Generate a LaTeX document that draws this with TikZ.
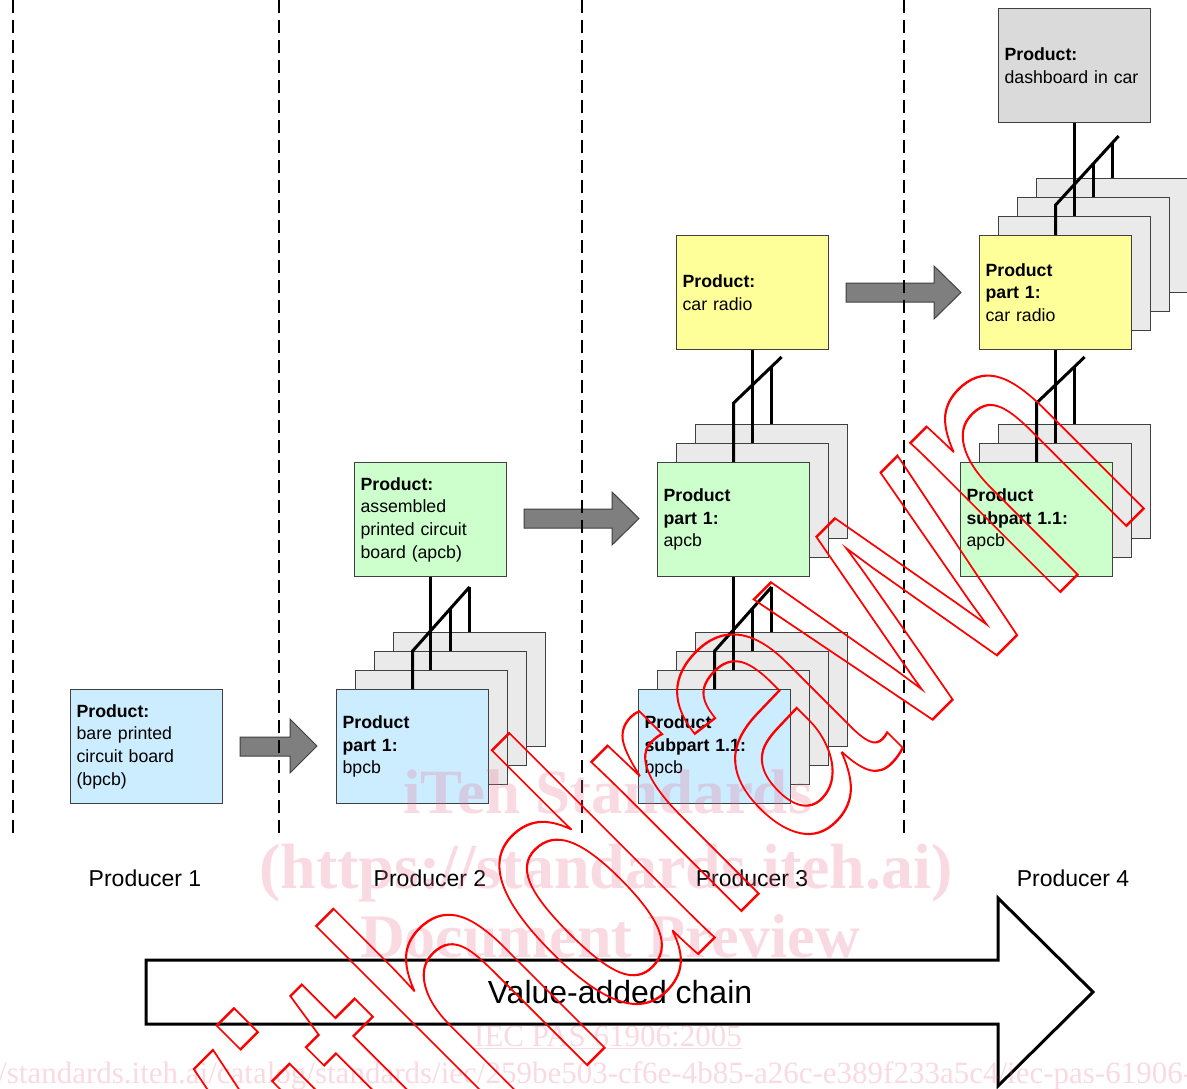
\documentclass[tikz,border=0pt]{standalone}
\usepackage{fontspec}
\setmainfont{Liberation Sans}
\newfontfamily\wmserif{Liberation Serif}
\definecolor{cbpcb}{HTML}{CCECFF}
\definecolor{capcb}{HTML}{CCFFCC}
\definecolor{cradio}{HTML}{FFFF99}
\definecolor{cdashb}{HTML}{DADADA}
\definecolor{cgray}{HTML}{EAEAEA}
\definecolor{carrow}{HTML}{7F7F7F}
\definecolor{cedge}{HTML}{404040}
\definecolor{cwm}{RGB}{235,110,145}
\newcommand\bxfont{\fontsize{17.7}{22.6}\selectfont}
\begin{document}
\begin{tikzpicture}[x=1pt,y=-1pt,
  pbox/.style={draw=cedge, line width=1.2pt, minimum width=152pt, minimum height=114pt,
    text width=140pt, inner xsep=6pt, inner ysep=0pt, align=left, anchor=north west, font=\bxfont},
  gbox/.style={pbox, fill=cgray},
  conn/.style={draw=black, line width=3pt},
  blockarrow/.style={fill=carrow, draw=cedge, line width=1pt},
  divider/.style={draw=black, line width=1.8pt, dash pattern=on 13pt off 7pt},
  prodlabel/.style={font=\fontsize{23}{23}\selectfont, inner sep=0pt},
  pinkwm/.style={text=cwm, text opacity=0.25, inner sep=0pt},
]
\fill[white] (0,0) rectangle (1187,1088);
\useasboundingbox (0,0) rectangle (1187,1088);

% ---------- Producer 1
\node[pbox, fill=cbpcb] (a1) at (70,689) {\textbf{Product:}\\bare printed\\circuit board\\(bpcb)};

% ---------- Producer 2
\node[gbox] (b4) at (393,632) {};
\node[gbox] (b3) at (374,651) {};
\node[gbox] (b2) at (355,670) {};
\node[pbox, fill=cbpcb] (b1) at (336,689) {\textbf{Product}\\\textbf{part 1:}\\bpcb};
\node[pbox, fill=capcb] (b0) at (354,462) {\textbf{Product:}\\assembled\\printed circuit\\board (apcb)};

\draw[conn] (b0.south) -- (b0.south |- b2.north);
\draw[conn] (b1.north) -- ++(0,-38) -- ([yshift=45pt]b4.north);
\draw[conn] (b3.north) -- ++(0,-43);
\draw[conn] (b4.north) -- ++(0,-45);

% ---------- Producer 3
\node[pbox, fill=cradio] (c0) at (676,235) {\textbf{Product:}\\car radio};
\node[gbox] (c3) at (695,424) {};
\node[gbox] (c2) at (676,443) {};
\node[pbox, fill=capcb] (c1) at (657,462) {\textbf{Product}\\\textbf{part 1:}\\apcb};
\node[gbox] (d4) at (695,632) {};
\node[gbox] (d3) at (676,651) {};
\node[gbox] (d2) at (657,670) {};
\node[pbox, fill=cbpcb] (d1) at (638,689) {\textbf{Product}\\\textbf{subpart 1.1:}\\bpcb};

\draw[conn] (c0.south) -- (c0.south |- c2.north);
\draw[conn] (c1.north) -- ++(0,-59) -- ([xshift=10pt,yshift=67pt]c3.north);
\draw[conn] (c3.north) -- ++(0,-57);
\draw[conn] (c1.south) -- (c1.south |- d2.north);
\draw[conn] (d1.north) -- ++(0,-38) -- ([yshift=45pt]d4.north);
\draw[conn] (d3.north) -- ++(0,-43);
\draw[conn] (d4.north) -- ++(0,-45);

% ---------- Producer 4
\node[pbox, fill=cdashb] (e0) at (998,8) {\textbf{Product:}\\dashboard in car};
\node[gbox] (f4) at (1036,178) {};
\node[gbox] (f3) at (1017,197) {};
\node[gbox] (f2) at (998,216) {};
\node[pbox, fill=cradio] (f1) at (979,235) {\textbf{Product}\\\textbf{part 1:}\\car radio};
\node[gbox] (g3) at (998,424) {};
\node[gbox] (g2) at (979,443) {};
\node[pbox, fill=capcb] (g1) at (960,462) {\textbf{Product}\\\textbf{subpart 1.1:}\\apcb};

\draw[conn] (e0.south) -- (e0.south |- f2.north);
\draw[conn] (f1.north) -- ++(0,-30) -- ([xshift=6pt,yshift=42pt]f4.north);
\draw[conn] (f3.north) -- ++(0,-33);
\draw[conn] (f4.north) -- ++(0,-36);
\draw[conn] (f1.south) -- (f1.south |- g2.north);
\draw[conn] (g1.north) -- ++(0,-59) -- ([xshift=10pt,yshift=67pt]g3.north);
\draw[conn] (g3.north) -- ++(0,-57);

% ---------- block arrows
\draw[blockarrow] (240,737) -- (290,737) -- (290,719) -- (317,746) -- (290,773) -- (290,756) -- (240,756) -- cycle;
\draw[blockarrow] (524,509) -- (612,509) -- (612,492) -- (639,518.5) -- (612,545) -- (612,528) -- (524,528) -- cycle;
\draw[blockarrow] (846,283) -- (934,283) -- (934,266) -- (961,292.5) -- (934,319) -- (934,302) -- (846,302) -- cycle;

% ---------- dividers
\draw[divider] (13,0) -- (13,840);
\draw[divider] (279,0) -- (279,840);
\draw[divider] (582,0) -- (582,840);
\draw[divider] (904,0) -- (904,840);

% ---------- producer labels
\node[prodlabel] (pl1) at (145,878) {Producer 1};
\node[prodlabel] (pl2) at (430,878) {Producer 2};
\node[prodlabel] (pl3) at (752,878) {Producer 3};
\node[prodlabel] (pl4) at (1073,878) {Producer 4};

% ---------- value-added chain arrow
\draw[line width=3pt, fill=white] (146,960) -- (998,960) -- (998,898) -- (1093,992) -- (998,1086) -- (998,1024) -- (146,1024) -- cycle;
\node[font=\fontsize{32}{32}\selectfont, inner sep=0pt] (vac) at (620,992) {Value-added chain};

% ---------- pink watermark
\node[pinkwm, anchor=base, font=\wmserif\bfseries\fontsize{63}{63}\selectfont] (w1) at (608,813) {iTeh Standards};
\node[pinkwm, anchor=base, font=\wmserif\bfseries\fontsize{64}{64}\selectfont] (w2) at (606,888) {(https://standards.iteh.ai)};
\node[pinkwm, anchor=base, font=\wmserif\bfseries\fontsize{62}{62}\selectfont] (w3) at (610,957) {Document Preview};
\node[pinkwm, anchor=base, font=\wmserif\fontsize{31}{31}\selectfont] (w4) at (608,1046) {\underline{IEC PAS 61906:2005}};
\node[pinkwm, anchor=base west, font=\wmserif\fontsize{31}{31}\selectfont] (w5) at (-2,1083) {\llap{https:/}/standards.iteh.ai/catalog/standards/iec/259be503-cf6e-4b85-a26c-e389f233a5c4/iec-pas-61906-2005};

% ---------- red outline watermark
\begin{scope}[shift={(588,862)}]
\node[text=red, inner sep=0pt, cm={0.495,0.495,-0.707,0.707,(0,0)}, transform shape,
  font=\fontsize{400}{400}\selectfont] (wd) at (0,0)
  {\special{pdf:literal direct 1 0 0 RG 1 Tr 2.4 w}Withdrawn\special{pdf:literal direct 0 Tr}};
\end{scope}
\end{tikzpicture}
\end{document}
